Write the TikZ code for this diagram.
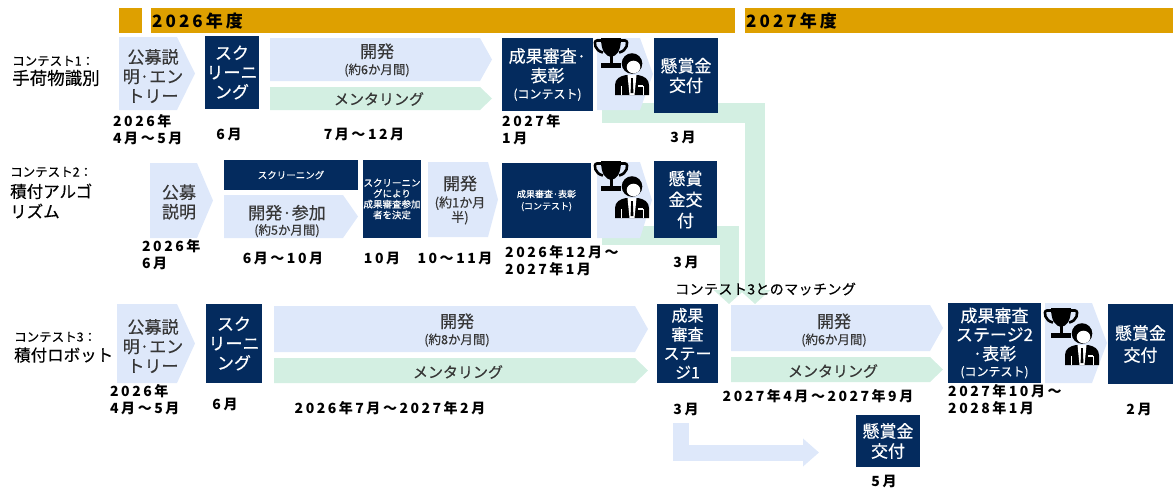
\documentclass[tikz,border=0pt]{standalone}
\usepackage{fontspec}
\setmainfont{Noto Sans CJK JP}[UprightFeatures={FakeBold=0.35}]
\newfontfamily\datefont{Noto Sans CJK JP}[LetterSpace=18]
\newfontfamily\lsfont{Noto Sans CJK JP}[LetterSpace=3,FakeBold=0.35]
\usetikzlibrary{arrows.meta}
\definecolor{navyc}{RGB}{4,43,94}
\definecolor{lblue}{RGB}{222,232,250}
\definecolor{lgreen}{RGB}{211,239,226}
\definecolor{goldc}{RGB}{222,160,0}
\definecolor{chtext}{RGB}{55,55,55}
\newcommand\fA{\fontsize{17}{19.5}\selectfont}
\newcommand\fB{\fontsize{12.5}{14}\selectfont}
\newcommand\fS{\fontsize{9.5}{10.7}\selectfont}
\newcommand\chev[7]{%
  \fill[#7] (#2,#3) -- (#4,#3) -- (#5,{(#3+#6)/2}) -- (#4,#6) -- (#2,#6) -- cycle;
  \coordinate (#1) at ({(#2+#4)/2},{(#3+#6)/2});}
\newcommand\award[2]{%
  \begin{scope}[shift={(#1,#2)}]
    \fill (8,0) -- (28,0) .. controls (28,14) and (23,18) .. (18,19) .. controls (13,18) and (8,14) .. (8,0) -- cycle;
    \draw[line width=2.6pt] (8,2.5) -- (4,2.5) .. controls (1.5,2.5) and (1.5,6) .. (2.5,8.5) .. controls (3.5,11.5) and (6,13.5) .. (10,14.5);
    \draw[line width=2.6pt] (28,2.5) -- (32,2.5) .. controls (34.5,2.5) and (34.5,6) .. (33.5,8.5) .. controls (32.5,11.5) and (30,13.5) .. (26,14.5);
    \fill (16.5,18) rectangle (19.5,25);
    \fill (8,25) rectangle (28,30);
    \fill (22,57) -- (22,47) .. controls (22,41) and (27,38) .. (33,37) -- (45,37) .. controls (51,38) and (56,41) .. (56,47) -- (56,57) -- cycle;
    \fill[white] (34.5,37) -- (43.5,37) -- (41.5,57) -- (36.5,57) -- cycle;
    \fill (38.2,40) -- (39.8,40) -- (40.4,55) -- (37.6,55) -- cycle;
    \fill[white] (45,47) rectangle (50,48.6);
    \draw[white, line width=0.8pt] (28,48) -- (28,57) (50,48) -- (50,57);
    \fill (39,25.5) circle (10.3);
    \fill[white] (40.5,29) ellipse (6.8 and 6.3);
  \end{scope}}
\tikzset{
  nbox/.style={fill=navyc, text=white, inner sep=0pt, align=center},
  ctxt/.style={text=chtext, inner sep=0pt, align=center},
  dtxt/.style={inner sep=0pt, align=left, font=\datefont\bfseries\fontsize{14}{17}\selectfont},
  htxt/.style={inner sep=0pt, anchor=west, font=\datefont\bfseries\fontsize{17}{20}\selectfont},
  ltxt/.style={inner sep=0pt, anchor=west, align=left},
  gconn/.style={draw=lgreen, line join=miter, -{Triangle[length=14pt,width=30pt]}},
  bconn/.style={draw=lblue, line join=miter, line width=16pt, -{Triangle[length=16pt,width=27pt]}}
}
\begin{document}
\begin{tikzpicture}[x=1pt,y=-1pt]
\useasboundingbox (0,0) rectangle (1173,488);
% header
\fill[goldc] (119,8) rectangle (142,33);
\fill[goldc] (151,8) rectangle (735,33);
\fill[goldc] (745,8) rectangle (1173,33);
\node[htxt] (h26) at (152,21) {2026年度};
\node[htxt] (h27) at (746,21) {2027年度};
% connectors
\coordinate (g1s) at (602,113); \coordinate (g1c) at (755,113); \coordinate (g1e) at (755,304);
\draw[gconn, line width=20pt] (g1s) -- (g1c) -- (g1e);
\coordinate (g2s) at (602,235.5); \coordinate (g2c) at (729,235.5); \coordinate (g2e) at (729,304);
\draw[gconn, line width=19pt] (g2s) -- (g2c) -- (g2e);
\coordinate (l1s) at (681,423); \coordinate (l1c) at (681,452.5); \coordinate (l1e) at (819,452.5);
\draw[bconn] (l1s) -- (l1c) -- (l1e);
% row labels
\node[ltxt, font=\fontsize{12.5}{14}\selectfont] (r1a) at (12,61) {コンテスト1：};
\node[ltxt, font=\fontsize{17.5}{20}\selectfont] (r1b) at (12,78) {手荷物識別};
\node[ltxt, font=\fontsize{12.5}{14}\selectfont] (r2a) at (10,172) {コンテスト2：};
\node[ltxt, font=\fontsize{16.5}{20}\selectfont] (r2b) at (10,201) {積付アルゴ\\リズム};
\node[ltxt, font=\fontsize{12.5}{14}\selectfont] (r3a) at (14,337) {コンテスト3：};
\node[ltxt, font=\fontsize{16.5}{20}\selectfont] (r3b) at (14,355) {積付ロボット};
% ---- row 1
\chev{c1a}{119}{37}{177}{195}{110}{lblue}
\chev{c1dev}{270}{38}{480}{492}{81}{lblue}
\chev{c1men}{270}{87}{480}{492}{110}{lgreen}
\chev{c1ic}{597}{38}{640}{653}{110}{lblue}
\node[ctxt, font=\fA] (t1a) at (153,76) {公募説\\明·エン\\トリー};
\node[nbox, minimum width=54pt, minimum height=73pt, font=\fA] (b1scr) at (232,72.5) {スク\\リーニ\\ング};
\node[ctxt, font=\fA] (t1dev) at (377,60) {開発\\[-3pt]{\fB(約6か月間)}};
\node[ctxt, font=\fontsize{15}{17}\selectfont] (t1men) at (379,99) {メンタリング};
\node[nbox, minimum width=91pt, minimum height=73pt, font=\fA] (b1res) at (547.5,74.5) {成果審査·\\表彰\\[-3pt]{\fontsize{12}{14}\selectfont(コンテスト)}};
\node[nbox, minimum width=64pt, minimum height=75pt, font=\fA] (b1pay) at (686,75.5) {懸賞金\\交付};
\award{593}{38}
\node[dtxt, anchor=west] (d1a) at (113,130) {2026年\\4月～5月};
\node[dtxt] (d1b) at (229,134) {6月};
\node[dtxt] (d1c) at (364,134) {7月～12月};
\node[dtxt, anchor=west] (d1d) at (502,130) {2027年\\1月};
\node[dtxt] (d1e) at (683,137) {3月};
% ---- row 2
\chev{c2a}{150}{163}{197}{213}{238}{lblue}
\chev{c2dev}{224}{195}{343}{358}{238}{lblue}
\chev{c2dev2}{428}{162}{488}{498}{237}{lblue}
\chev{c2ic}{597}{162}{640}{652}{238}{lblue}
\node[ctxt, font=\fA] (t2a) at (179,202) {公募\\説明};
\node[nbox, minimum width=134pt, minimum height=30pt, font=\fS] (b2scr) at (291,175) {スクリーニング};
\node[ctxt, font=\fA] (t2dev) at (287,221) {開発·参加\\[-4pt]{\fB(約5か月間)}};
\node[nbox, minimum width=58pt, minimum height=78pt, font=\fS] (b2sel) at (392,199) {スクリーニン\\グにより\\成果審査参加\\者を決定};
\node[ctxt, font=\fA] (t2dev2) at (460,200) {開発\\[-2pt]{\fontsize{13}{15}\selectfont(約1か月}\\[-5pt]{\fontsize{13}{15}\selectfont 半)}};
\node[nbox, minimum width=89pt, minimum height=75pt, font=\fontsize{9}{12}\selectfont] (b2res) at (546.5,200.5) {成果審査·表彰\\(コンテスト)};
\node[nbox, minimum width=63pt, minimum height=77pt, font=\fontsize{17}{21}\selectfont] (b2pay) at (685.5,199.5) {懸賞\\金交\\付};
\award{593}{161}
\node[dtxt, anchor=west] (d2a) at (142,255) {2026年\\6月};
\node[dtxt] (d2b) at (283,258) {6月～10月};
\node[dtxt] (d2c) at (382,258) {10月};
\node[dtxt] (d2d) at (455,258) {10～11月};
\node[dtxt, anchor=west] (d2e) at (505,261) {2026年12月～\\2027年1月};
\node[dtxt] (d2f) at (686,262) {3月};
% ---- row 3
\chev{c3a}{117}{304}{177}{195}{383}{lblue}
\chev{c3dev}{274}{306}{635}{648}{352}{lblue}
\chev{c3men}{274}{358}{635}{648}{383}{lgreen}
\chev{c3dev2}{731}{305}{930}{943}{351}{lblue}
\chev{c3men2}{731}{357}{930}{943}{382}{lgreen}
\chev{c3ic}{1045}{303}{1092}{1107}{383}{lblue}
\node[ctxt, font=\fA] (t3a) at (153,346) {公募説\\明·エン\\トリー};
\node[nbox, minimum width=56pt, minimum height=79pt, font=\fA] (b3scr) at (234,343.5) {スク\\リーニ\\ング};
\node[ctxt, font=\fA] (t3dev) at (457,330) {開発\\[-3pt]{\fB(約8か月間)}};
\node[ctxt, font=\fontsize{15}{17}\selectfont] (t3men) at (458,372) {メンタリング};
\node[nbox, minimum width=61pt, minimum height=79pt, font=\fontsize{16}{19}\selectfont] (b3st1) at (687.5,343.5) {成果\\審査\\ステー\\ジ1};
\node[ctxt, font=\fA] (t3dev2) at (834,330) {開発\\[-3pt]{\fB(約6か月間)}};
\node[ctxt, font=\fontsize{15}{17}\selectfont] (t3men2) at (833,371) {メンタリング};
\node[nbox, minimum width=93pt, minimum height=80pt, font=\fontsize{17}{19}\selectfont] (b3st2) at (994.5,343) {成果審査\\ステージ2\\·表彰\\[-3pt]{\fontsize{12}{14}\selectfont(コンテスト)}};
\award{1043}{308}
\node[nbox, minimum width=65pt, minimum height=80pt, font=\fontsize{17}{22}\selectfont] (b3pay) at (1140.5,344) {懸賞金\\交付};
\node[nbox, minimum width=64pt, minimum height=52pt, font=\fontsize{17}{20}\selectfont] (b3pay2) at (888,441) {懸賞金\\交付};
\node[dtxt, anchor=west] (d3a) at (110,400) {2026年\\4月～5月};
\node[dtxt] (d3b) at (225,404) {6月};
\node[dtxt] (d3c) at (390,408) {2026年7月～2027年2月};
\node[dtxt] (d3d) at (686,409) {3月};
\node[dtxt] (d3e) at (818,396) {2027年4月～2027年9月};
\node[dtxt, anchor=west] (d3f) at (948,400) {2027年10月～\\2028年1月};
\node[dtxt] (d3g) at (1139,409) {2月};
\node[dtxt] (d3h) at (884,481) {5月};
% matching label
\node[ltxt, font=\lsfont\fontsize{14}{16}\selectfont] (match) at (675,289) {コンテスト3とのマッチング};
\end{tikzpicture}
\end{document}
